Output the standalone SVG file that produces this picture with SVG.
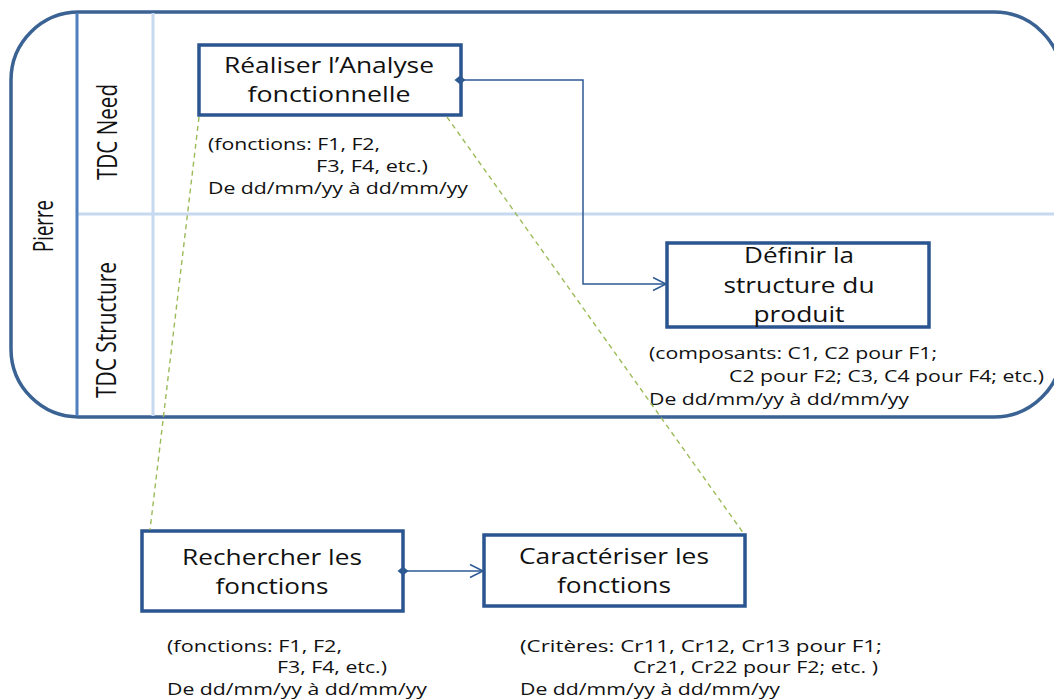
<svg xmlns="http://www.w3.org/2000/svg" width="1054" height="699" viewBox="0 0 1054 699">
<defs>
<style>
.node{fill:#fff;stroke:#2B5590;stroke-width:3.5}
.t{font-family:"Open Sans","Liberation Sans",sans-serif;fill:#111}
.nt{font-size:21px;text-anchor:middle}
.an{font-size:17px}
.lane{font-size:28px;text-anchor:middle}
.conn{fill:none;stroke:#2E5A94;stroke-width:1.5}
.dash{fill:none;stroke:#9BBB59;stroke-width:1.4;stroke-dasharray:5 4}
</style>
<marker id="dia" markerWidth="14" markerHeight="14" refX="7" refY="7" orient="auto" markerUnits="userSpaceOnUse">
<path d="M1.5,7 L7,2.5 L12.5,7 L7,11.5 Z" fill="#2E5A94"/>
</marker>
<marker id="arr" markerWidth="16" markerHeight="16" refX="14" refY="8" orient="auto" markerUnits="userSpaceOnUse">
<path d="M1,1.5 L14,8 L1,14.5" fill="none" stroke="#2E5A94" stroke-width="1.5"/>
</marker>
</defs>
<rect width="1054" height="699" fill="#fff"/>
<g id="pool">
<rect x="11" y="12" width="1051" height="405" rx="68" ry="68" fill="#fff" stroke="#3A6293" stroke-width="3.5"/>
<line x1="153" y1="13" x2="153" y2="416" stroke="#C6D9F0" stroke-width="3"/>
<line x1="77" y1="214" x2="1060" y2="214" stroke="#C6D9F0" stroke-width="3"/>
<line x1="77" y1="13" x2="77" y2="416" stroke="#4F7FBC" stroke-width="3"/>
<text class="t lane" transform="translate(53,226) rotate(-90)" textLength="52" lengthAdjust="spacingAndGlyphs">Pierre</text>
<text class="t lane" transform="translate(117,132) rotate(-90)" textLength="96" lengthAdjust="spacingAndGlyphs">TDC Need</text>
<text class="t lane" transform="translate(116,330) rotate(-90)" textLength="136" lengthAdjust="spacingAndGlyphs">TDC Structure</text>
</g>
<g id="node-analyse">
<rect class="node" x="199" y="45" width="262" height="70"/>
<text class="t nt" x="329" y="73" textLength="210" lengthAdjust="spacingAndGlyphs">Réaliser l’Analyse</text>
<text class="t nt" x="329" y="102" textLength="163" lengthAdjust="spacingAndGlyphs">fonctionnelle</text>
<text class="t an" x="208" y="150" textLength="172" lengthAdjust="spacingAndGlyphs">(fonctions: F1, F2,</text>
<text class="t an" x="316" y="172" textLength="112" lengthAdjust="spacingAndGlyphs">F3, F4, etc.)</text>
<text class="t an" x="208" y="194" textLength="260" lengthAdjust="spacingAndGlyphs">De dd/mm/yy à dd/mm/yy</text>
</g>
<g id="node-structure">
<rect class="node" x="667" y="243" width="262" height="84"/>
<text class="t nt" x="799" y="263" textLength="110" lengthAdjust="spacingAndGlyphs">Définir la</text>
<text class="t nt" x="799" y="293" textLength="151" lengthAdjust="spacingAndGlyphs">structure du</text>
<text class="t nt" x="799" y="322" textLength="91" lengthAdjust="spacingAndGlyphs">produit</text>
<text class="t an" x="649" y="359" textLength="288" lengthAdjust="spacingAndGlyphs">(composants:  C1, C2 pour F1;</text>
<text class="t an" x="729" y="382" textLength="315" lengthAdjust="spacingAndGlyphs">C2 pour F2; C3, C4 pour F4; etc.)</text>
<text class="t an" x="649" y="405" textLength="260" lengthAdjust="spacingAndGlyphs">De dd/mm/yy à dd/mm/yy</text>
</g>
<g id="node-rechercher">
<rect class="node" x="142" y="531" width="261" height="80"/>
<text class="t nt" x="272" y="565" textLength="180" lengthAdjust="spacingAndGlyphs">Rechercher les</text>
<text class="t nt" x="272" y="594" textLength="113" lengthAdjust="spacingAndGlyphs">fonctions</text>
<text class="t an" x="167" y="652" textLength="175" lengthAdjust="spacingAndGlyphs">(fonctions: F1, F2,</text>
<text class="t an" x="277" y="673" textLength="110" lengthAdjust="spacingAndGlyphs">F3, F4, etc.)</text>
<text class="t an" x="167" y="695" textLength="260" lengthAdjust="spacingAndGlyphs">De dd/mm/yy à dd/mm/yy</text>
</g>
<g id="node-caracteriser">
<rect class="node" x="484" y="535" width="261" height="71"/>
<text class="t nt" x="614" y="564" textLength="190" lengthAdjust="spacingAndGlyphs">Caractériser les</text>
<text class="t nt" x="614" y="593" textLength="114" lengthAdjust="spacingAndGlyphs">fonctions</text>
<text class="t an" x="520" y="652" textLength="362" lengthAdjust="spacingAndGlyphs">(Critères:  Cr11, Cr12, Cr13 pour F1;</text>
<text class="t an" x="633" y="673" textLength="245" lengthAdjust="spacingAndGlyphs">Cr21, Cr22 pour F2; etc. )</text>
<text class="t an" x="520" y="695" textLength="260" lengthAdjust="spacingAndGlyphs">De dd/mm/yy à dd/mm/yy</text>
</g>
<g id="connectors">
<line class="dash" x1="199" y1="117" x2="150" y2="530"/>
<line class="dash" x1="447" y1="117" x2="744" y2="534"/>
<path class="conn" d="M460,80 H583 V284 H666" marker-start="url(#dia)" marker-end="url(#arr)"/>
<path class="conn" d="M403,571 H483" marker-start="url(#dia)" marker-end="url(#arr)"/>
</g>
</svg>
